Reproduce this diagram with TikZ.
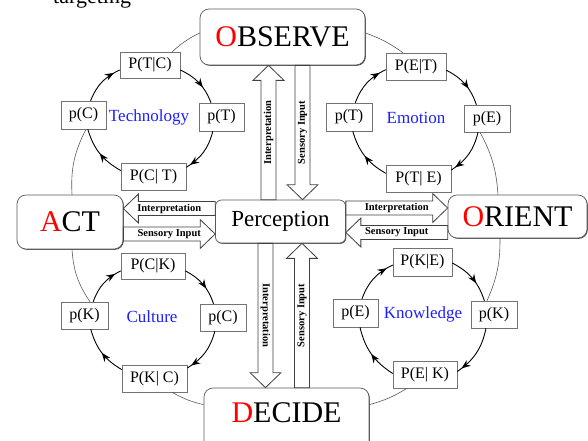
\documentclass[tikz,border=0pt]{standalone}
\usepackage{fontspec}
\setmainfont{Liberation Serif}
\usetikzlibrary{calc,arrows.meta,decorations.markings,shadows}
\definecolor{ored}{RGB}{255,0,0}
\definecolor{lblue}{RGB}{30,30,255}
\tikzset{
 mainbox/.style={draw=black!65, fill=white, line width=0.7pt, rounded corners=9pt, inner sep=0pt,
   font=\fontsize{30}{30}\selectfont,
   drop shadow={shadow xshift=0.8pt, shadow yshift=-0.8pt, fill=black!70, opacity=1}},
 pbox/.style={draw=black!55, fill=white, line width=0.5pt, inner sep=0pt,
   font=\fontsize{16}{16}\selectfont,
   drop shadow={shadow xshift=1pt, shadow yshift=-1pt, fill=black, opacity=1}},
 topic/.style={text=lblue, font=\fontsize{17}{17}\selectfont, inner sep=0pt},
 arrlbl/.style={font=\bfseries\fontsize{10.5}{10.5}\selectfont, inner sep=0pt},
 barr/.style={draw=black!75, fill=white, line width=0.8pt},
 cyc/.style={line width=0.9pt, postaction={decorate},
   decoration={markings, mark=at position #1 with {\arrow{Stealth[length=9pt,width=7pt,inset=3pt]}}}},
 loopline/.style={draw=black!65, line width=0.6pt},
}
% vertical block arrow: tail, tip, label, rotation, label name
\newcommand\varr[5]{%
  \draw[barr] let \p1=(#1), \p2=(#2), \n1={(\y2-\y1)/abs(\y2-\y1)} in
    ({\x1-7.5pt},\y1) -- ({\x1-7.5pt},{\y2-(\n1)*15pt}) -- ({\x1-15.5pt},{\y2-(\n1)*15pt})
    -- (\x1,\y2) -- ({\x1+15.5pt},{\y2-(\n1)*15pt}) -- ({\x1+7.5pt},{\y2-(\n1)*15pt})
    -- ({\x1+7.5pt},\y1) -- cycle;
  \node[arrlbl, rotate=#4] (#5) at ($(#1)!0.5!(#2)$) {#3};}
% horizontal block arrow
\newcommand\harr[4]{%
  \draw[barr] let \p1=(#1), \p2=(#2), \n1={(\x2-\x1)/abs(\x2-\x1)} in
    (\x1,{\y1+7pt}) -- ({\x2-(\n1)*15pt},{\y1+7pt}) -- ({\x2-(\n1)*15pt},{\y1+14.5pt})
    -- (\x2,\y1) -- ({\x2-(\n1)*15pt},{\y1-14.5pt}) -- ({\x2-(\n1)*15pt},{\y1-7pt})
    -- (\x1,{\y1-7pt}) -- cycle;
  \node[arrlbl] (#4) at ($(#1)!0.5!(#2)$) {#3};}
\begin{document}
\begin{tikzpicture}[x=1pt,y=-1pt]
\useasboundingbox (0,0) rectangle (588,440);
\clip (0,0) rectangle (588,440);
\node[anchor=base west, font=\fontsize{22}{22}\selectfont, inner sep=0pt] (tgt) at (53,3) {targeting};

% main boxes
\node[mainbox, minimum width=165pt, minimum height=56pt] (obs) at (282.5,37) {\textcolor{ored}{O}BSERVE};
\node[mainbox, minimum width=106pt, minimum height=54pt] (act) at (70,222) {\textcolor{ored}{A}CT};
\node[mainbox, minimum width=139pt, minimum height=43pt] (ori) at (517.5,216.5) {\textcolor{ored}{O}RIENT};
\node[mainbox, minimum width=165pt, minimum height=62pt, text height=20pt, text depth=13pt] (dec) at (286.5,419) {\textcolor{ored}{D}ECIDE};
\node[mainbox, rounded corners=6pt, minimum width=130pt, minimum height=43pt, font=\fontsize{23}{23}\selectfont] (per) at (280.5,221.5) {Perception};

% Technology
\node[pbox, minimum width=60pt, minimum height=26pt] (tc) at (150,65) {P(T|C)};
\node[pbox, minimum width=45pt, minimum height=28pt] (pc) at (83.5,115) {p(C)};
\node[pbox, minimum width=45pt, minimum height=28pt] (pt) at (221.5,117) {p(T)};
\node[pbox, minimum width=65pt, minimum height=27pt] (ct) at (153.5,176.5) {P(C| T)};
\node[topic] (ltech) at (149,117) {Technology};
% Emotion
\node[pbox, minimum width=60pt, minimum height=27pt] (et) at (416,66.5) {P(E|T)};
\node[pbox, minimum width=46pt, minimum height=28pt] (pt2) at (349,117) {p(T)};
\node[pbox, minimum width=46pt, minimum height=27pt] (pe) at (487,118.5) {p(E)};
\node[pbox, minimum width=65pt, minimum height=27pt] (te) at (418.5,178.5) {P(T| E)};
\node[topic] (lemo) at (416,118) {Emotion};
% Culture
\node[pbox, minimum width=64pt, minimum height=26pt] (ck) at (153,266) {P(C|K)};
\node[pbox, minimum width=47pt, minimum height=27pt] (pk) at (84.5,315.5) {p(K)};
\node[pbox, minimum width=46pt, minimum height=27pt] (pc2) at (223,317.5) {p(C)};
\node[pbox, minimum width=65pt, minimum height=27pt] (kc) at (154.5,378.5) {P(K| C)};
\node[topic] (lcul) at (152,317) {Culture};
% Knowledge
\node[pbox, minimum width=59pt, minimum height=28pt] (ke) at (422.5,262) {P(K|E)};
\node[pbox, minimum width=45pt, minimum height=28pt] (pe2) at (355.5,313) {p(E)};
\node[pbox, minimum width=46pt, minimum height=27pt] (pk2) at (494,314.5) {p(K)};
\node[pbox, minimum width=64pt, minimum height=27pt] (ek) at (425,374.5) {P(E| K)};
\node[topic] (lkno) at (423,314) {Knowledge};

% cycles
\draw[cyc=0.62] ([yshift=-5pt]tc.east) to[bend left=22] ([xshift=-10.5pt]pt.north);
\draw[cyc=0.9] ([xshift=-8.7pt]pt.south) to[bend left=22] ([yshift=9.2pt]ct.east);
\draw[cyc=0.5] ([yshift=6pt]ct.west) to[bend left=22] ([xshift=4.3pt]pc.south);
\draw[cyc=0.85] ([xshift=7.1pt]pc.north) to[bend left=22] ([yshift=-5pt]tc.west);

\draw[cyc=0.62] ([yshift=-3.7pt]et.east) to[bend left=22] ([xshift=-10.6pt]pe.north);
\draw[cyc=0.9] ([xshift=-9pt]pe.south) to[bend left=22] ([yshift=8.5pt]te.east);
\draw[cyc=0.5] ([yshift=5.2pt]te.west) to[bend left=22] ([xshift=3.8pt]pt2.south);
\draw[cyc=0.85] ([xshift=6.3pt]pt2.north) to[bend left=22] ([yshift=-3.2pt]et.west);

\draw[cyc=0.62] ([yshift=-4.9pt]ck.east) to[bend left=22] ([xshift=-9.5pt]pc2.north);
\draw[cyc=0.9] ([xshift=-8.2pt]pc2.south) to[bend left=22] ([yshift=10.5pt]kc.east);
\draw[cyc=0.5] ([yshift=8.9pt]kc.west) to[bend left=22] ([xshift=6.3pt]pk.south);
\draw[cyc=0.85] ([xshift=8.7pt]pk.north) to[bend left=22] ([yshift=-4.9pt]ck.west);

\draw[cyc=0.62] ([yshift=-1pt]ke.east) to[bend left=22] ([xshift=-9.6pt]pk2.north);
\draw[cyc=0.9] ([xshift=-8pt]pk2.south) to[bend left=22] ([yshift=3pt]ek.east);
\draw[cyc=0.5] ([yshift=1pt]ek.west) to[bend left=22] ([xshift=4.5pt]pe2.south);
\draw[cyc=0.85] ([xshift=6.5pt]pe2.north) to[bend left=22] ([yshift=-3pt]ke.west);

% outer loop
\draw[loopline] ([yshift=4pt]obs.west) to[bend right=8] ([xshift=-8pt]tc.north east);
\draw[loopline] ([xshift=2.5pt]pc.south) to[bend right=15] ([xshift=2pt]act.north);
\draw[loopline] ([xshift=2pt]act.south) to[bend right=15] ([xshift=5.5pt]pk.north);
\draw[loopline] ([xshift=17.5pt]kc.south) to[bend right=8] ([yshift=-17pt]dec.north west);
\draw[loopline] ([yshift=-17pt]dec.north east) to[bend right=8] ([xshift=-18pt]ek.south);
\draw[loopline] ([xshift=-7pt]pk2.north) to[bend right=12] ([xshift=-17.5pt]ori.south);
\draw[loopline] ([xshift=-19.5pt]ori.north) to[bend right=12] ([xshift=-7pt]pe.south);
\draw[loopline] ([xshift=-13pt]et.north) to[bend right=8] ([yshift=4pt]obs.east);

% block arrows
\coordinate (a1s) at ([xshift=-12pt]per.north);
\coordinate (a1e) at (a1s |- obs.south);
\varr{a1s}{a1e}{Interpretation}{90}{l1}
\coordinate (a2s) at ([xshift=20pt]obs.south);
\coordinate (a2e) at (a2s |- per.north);
\varr{a2s}{a2e}{Sensory Input}{90}{l2}
\coordinate (a3s) at ([xshift=-15pt]per.south);
\coordinate (a3e) at (a3s |- dec.north);
\varr{a3s}{a3e}{Interpretation}{-90}{l3}
\coordinate (a4s) at ([xshift=15.5pt]dec.north);
\coordinate (a4e) at (a4s |- per.south);
\varr{a4s}{a4e}{Sensory Input}{90}{l4}
\coordinate (a5s) at ([yshift=13pt]per.west);
\coordinate (a5e) at (a5s -| act.east);
\harr{a5s}{a5e}{Interpretation}{l5}
\coordinate (a6s) at ([yshift=-12pt]act.east);
\coordinate (a6e) at (a6s -| per.west);
\harr{a6s}{a6e}{Sensory Input}{l6}
\coordinate (a7s) at ([yshift=13.5pt]per.east);
\coordinate (a7e) at (a7s -| ori.west);
\harr{a7s}{a7e}{Interpretation}{l7}
\coordinate (a8e) at ([yshift=-11pt]per.east);
\coordinate (a8s) at (a8e -| ori.west);
\harr{a8s}{a8e}{Sensory Input}{l8}
\end{tikzpicture}
\end{document}
